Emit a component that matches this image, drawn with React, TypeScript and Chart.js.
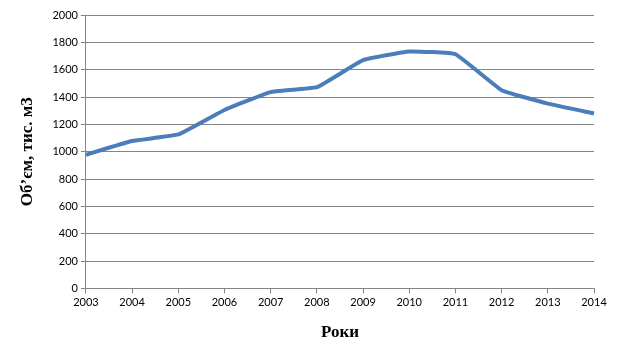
import React, { useEffect, useRef } from "react";
import { Chart, registerables } from "chart.js";

Chart.register(...registerables);

const years = ["2003", "2004", "2005", "2006", "2007", "2008", "2009", "2010", "2011", "2012", "2013", "2014"];
const volumes = [978, 1078, 1126, 1305, 1436, 1472, 1670, 1733, 1713, 1450, 1352, 1280];
const yTicksMax = 2000;
const yStep = 200;
const xTitle = "Роки";
const yTitle = "Об’єм, тис. м3";

export default function App() {
  const ref = useRef<HTMLCanvasElement | null>(null);
  useEffect(() => {
    document.body.style.margin = "0";
    const ctx = ref.current!;
    const gridColor = "#868686";
    const chart = new Chart(ctx, {
      type: "line",
      data: {
        labels: years,
        datasets: [
          {
            data: volumes,
            borderColor: "#4a7ebb",
            borderWidth: 4,
            pointRadius: 0,
            tension: 0.1,
            fill: false,
          },
        ],
      },
      options: {
        animation: false,
        responsive: false,
        maintainAspectRatio: false,
        layout: { padding: { left: 17, right: 33, top: 15, bottom: 17 } },
        plugins: { legend: { display: false }, tooltip: { enabled: false } },
        scales: {
          x: {
            offset: false,
            grid: { drawOnChartArea: false, drawTicks: true, tickLength: 5, color: gridColor },
            border: { color: gridColor, width: 1 },
            ticks: { color: "#000", font: { family: "Lato", size: 11 }, maxRotation: 0, autoSkip: false, padding: 2 },
            title: {
              display: true,
              text: xTitle,
              color: "#000",
              font: { family: "Liberation Serif", size: 17, weight: "bold" },
              padding: { top: 12, bottom: 0 },
            },
          },
          y: {
            min: 0,
            max: yTicksMax,
            grid: { color: gridColor, tickLength: 5, lineWidth: 1 },
            border: { color: gridColor, width: 1 },
            ticks: {
              stepSize: yStep,
              color: "#000",
              font: { family: "Lato", size: 11 },
              padding: 3,
              callback: (v: any) => String(v),
            },
            title: {
              display: true,
              text: yTitle,
              color: "#000",
              font: { family: "Liberation Serif", size: 17, weight: "bold" },
              padding: { top: 0, bottom: 12 },
            },
          },
        },
      },
    });
    return () => chart.destroy();
  }, []);
  return <canvas ref={ref} width={627} height={360} style={{ display: "block" }} />;
}
